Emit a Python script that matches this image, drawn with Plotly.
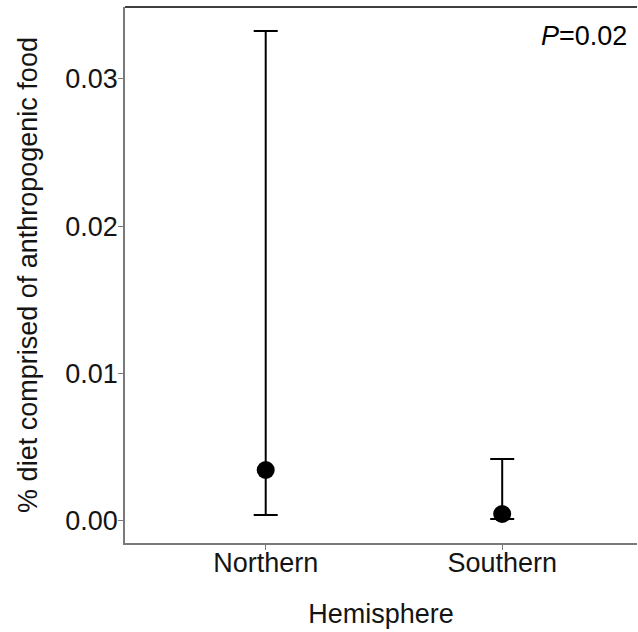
import plotly.graph_objects as go

# Estimated share of diet from anthropogenic food, by hemisphere
hemispheres = ["Northern", "Southern"]
estimate = [0.00343, 0.00044]
upper = [0.03326, 0.00418]
lower = [0.00037, 0.00010]

err_plus = [u - e for u, e in zip(upper, estimate)]
err_minus = [e - l for e, l in zip(estimate, lower)]

font_family = "Liberation Sans, Arial, sans-serif"
axis_grey = "#7a7a7a"
text_col = "#141414"

fig = go.Figure()
fig.add_trace(go.Scatter(
    x=hemispheres,
    y=estimate,
    mode="markers",
    marker=dict(size=18, color="black"),
    error_y=dict(type="data", symmetric=False, array=err_plus,
                 arrayminus=err_minus, color="black", thickness=2, width=12),
    showlegend=False,
))

fig.update_layout(
    width=638, height=632,
    margin=dict(l=125, r=1, t=7, b=89),
    paper_bgcolor="white", plot_bgcolor="white",
    font=dict(family=font_family, color=text_col),
    xaxis=dict(
        range=[-0.595, 1.57],
        showline=True, linecolor=axis_grey, linewidth=1.5,
        ticks="outside", ticklen=5, tickcolor=axis_grey, tickwidth=1,
        tickfont=dict(size=27, color=text_col),
        ticklabelstandoff=-10,
        showgrid=False, zeroline=False,
        title=dict(text="Hemisphere", font=dict(size=27, color=text_col), standoff=27),
    ),
    yaxis=dict(
        range=[-0.00153, 0.03489],
        tickvals=[0.0, 0.01, 0.02, 0.03],
        ticktext=["0.00", "0.01", "0.02", "0.03"],
        showline=True, linecolor=axis_grey, linewidth=1.5,
        ticks="outside", ticklen=5, tickcolor=axis_grey, tickwidth=1,
        tickfont=dict(size=27, color=text_col),
        ticklabelstandoff=-5,
        showgrid=False, zeroline=False,
        title=dict(text="% diet comprised of anthropogenic food",
                   font=dict(size=27, color=text_col), standoff=20),
    ),
    shapes=[
        dict(type="line", xref="paper", yref="paper", x0=0, x1=1, y0=1, y1=1,
             line=dict(color="black", width=1.5)),
    ],
    annotations=[
        dict(text="<i>P</i>=0.02", xref="paper", yref="paper", x=0.985, y=0.977,
             xanchor="right", yanchor="top", showarrow=False,
             font=dict(size=27, color="black", family=font_family)),
    ],
)

fig.write_html("out.html")
